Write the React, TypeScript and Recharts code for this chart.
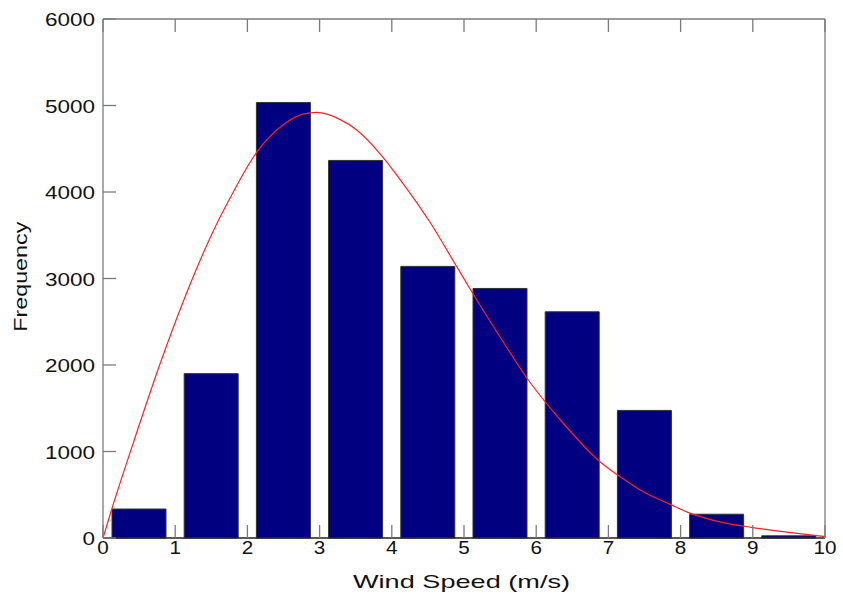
import { Bar, ComposedChart, Label, Line, XAxis, YAxis } from "recharts"

// histogram of wind speed, one bar per 1 m/s bin
const bins = ["0-1", "1-2", "2-3", "3-4", "4-5", "5-6", "6-7", "7-8", "8-9", "9-10"]
const binCounts = [335, 1900, 5035, 4365, 3140, 2885, 2615, 1475, 275, 25]

// fitted distribution
const fitX = [
  0, 0.12, 0.42, 0.81, 1.2, 1.5, 1.76, 2.13, 2.5, 2.77, 2.96, 3.28, 3.51, 3.87, 4.11, 4.53,
  4.89, 5.12, 5.45, 5.87, 6.33, 6.88, 7.16, 7.44, 7.88, 8.12, 8.5, 9, 9.5, 10,
]
const fitY = [
  0, 330, 1100, 2060, 2920, 3500, 3930, 4460, 4780, 4900, 4920, 4840, 4720, 4410, 4150, 3650,
  3150, 2830, 2390, 1850, 1370, 885, 710, 555, 380, 290, 195, 120, 65, 15,
]

const xTicks = [0, 1, 2, 3, 4, 5, 6, 7, 8, 9, 10]
const yTicks = [0, 1000, 2000, 3000, 4000, 5000, 6000]

const barData = bins.map((bin, i) => ({ bin, count: binCounts[i] }))
const fitData = fitX.map((x, i) => ({ x, fit: fitY[i] }))

const FONT = "'Liberation Sans', Arial, sans-serif"
const AXIS = "#7a7a7a"
const TICK_LEN = 13

function BottomTick({ x, y, payload }: any) {
  const s = String(payload.value)
  return (
    <g>
      <line x1={x} x2={x} y1={y} y2={y - TICK_LEN} stroke={AXIS} strokeWidth={1.3} />
      <text
        x={x}
        y={y + 16}
        textAnchor="middle"
        fontFamily={FONT}
        fontSize={19}
        fill="#111"
        textLength={s.length * 11.5}
        lengthAdjust="spacingAndGlyphs"
      >
        {s}
      </text>
    </g>
  )
}

function TopTick({ x, y }: any) {
  return <line x1={x} x2={x} y1={y} y2={y + TICK_LEN} stroke={AXIS} strokeWidth={1.3} />
}

function LeftTick({ x, y, payload }: any) {
  const s = String(payload.value)
  return (
    <g>
      <line x1={x} x2={x + TICK_LEN} y1={y} y2={y} stroke={AXIS} strokeWidth={1.3} />
      <text
        x={x - 8}
        y={y + 7}
        textAnchor="end"
        fontFamily={FONT}
        fontSize={19}
        fill="#111"
        textLength={s.length * 12.5}
        lengthAdjust="spacingAndGlyphs"
      >
        {s}
      </text>
    </g>
  )
}

function RightTick({ x, y }: any) {
  return <line x1={x} x2={x - TICK_LEN} y1={y} y2={y} stroke={AXIS} strokeWidth={1.3} />
}

export default function App() {
  return (
    <div>
      <style>{`body{margin:0}`}</style>
      <ComposedChart width={843} height={604} data={barData} margin={{ top: 0, right: 0, bottom: 0, left: 0 }}>
        {/* hidden band axis that places the bars */}
        <XAxis xAxisId="bins" dataKey="bin" type="category" hide height={66} />
        <XAxis
          dataKey="x"
          type="number"
          domain={[0, 10]}
          ticks={xTicks}
          interval={0}
          height={66}
          tickSize={0}
          tickMargin={0}
          tickLine={false}
          tick={<BottomTick />}
          axisLine={{ stroke: "#222", strokeWidth: 1.3 }}
          allowDataOverflow
        >
          <Label
            content={() => (
              <text
                x={461.5}
                y={588}
                textAnchor="middle"
                fontFamily={FONT}
                fontSize={19}
                fill="#111"
                textLength={217}
                lengthAdjust="spacingAndGlyphs"
              >
                Wind Speed (m/s)
              </text>
            )}
          />
        </XAxis>
        <XAxis
          xAxisId="top"
          orientation="top"
          dataKey="x"
          type="number"
          domain={[0, 10]}
          ticks={xTicks}
          interval={0}
          height={19}
          tickSize={0}
          tickMargin={0}
          tickLine={false}
          tick={<TopTick />}
          axisLine={{ stroke: AXIS, strokeWidth: 1.3 }}
          allowDataOverflow
        />
        <YAxis
          type="number"
          domain={[0, 6000]}
          ticks={yTicks}
          interval={0}
          width={103}
          tickSize={0}
          tickMargin={0}
          tickLine={false}
          tick={<LeftTick />}
          axisLine={{ stroke: AXIS, strokeWidth: 1.3 }}
        >
          <Label
            content={() => (
              <text
                x={27}
                y={276.7}
                transform="rotate(-90 27 276.7)"
                textAnchor="middle"
                fontFamily={FONT}
                fontSize={19}
                fill="#111"
                textLength={110}
                lengthAdjust="spacingAndGlyphs"
              >
                Frequency
              </text>
            )}
          />
        </YAxis>
        <YAxis
          yAxisId="right"
          orientation="right"
          type="number"
          domain={[0, 6000]}
          ticks={yTicks}
          interval={0}
          width={18}
          tickSize={0}
          tickMargin={0}
          tickLine={false}
          tick={<RightTick />}
          axisLine={{ stroke: AXIS, strokeWidth: 1.3 }}
        />
        <Bar
          xAxisId="bins"
          dataKey="count"
          fill="#000080"
          stroke="#333"
          strokeWidth={1}
          barSize={54}
          isAnimationActive={false}
        />
        <Line
          data={fitData}
          dataKey="fit"
          type="monotone"
          stroke="#ff2020"
          strokeWidth={1.2}
          dot={false}
          activeDot={false}
          isAnimationActive={false}
        />
      </ComposedChart>
    </div>
  )
}
